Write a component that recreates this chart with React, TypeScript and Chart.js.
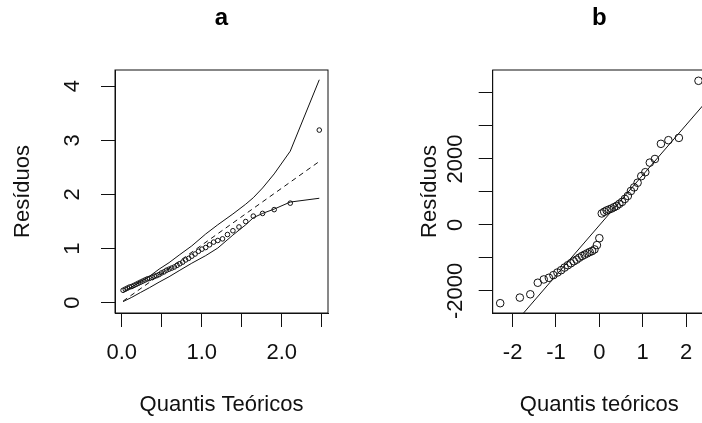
import React, { useEffect, useRef } from 'react';
import { Chart, registerables } from 'chart.js';

Chart.register(...registerables);

const FONT = "'Liberation Sans', Arial, Helvetica, sans-serif";

// ---------- Panel a (half-normal plot with simulated envelope) ----------
const A_X = [0.017, 0.044, 0.071, 0.098, 0.126, 0.153, 0.181, 0.208, 0.236, 0.264, 0.292, 0.321, 0.349, 0.378, 0.407, 0.437, 0.467, 0.497, 0.529, 0.56, 0.592, 0.625, 0.658, 0.692, 0.727, 0.762, 0.799, 0.837, 0.876, 0.917, 0.959, 1.003, 1.05, 1.098, 1.149, 1.201, 1.26, 1.322, 1.39, 1.466, 1.55, 1.645, 1.761, 1.906, 2.107, 2.47];
const A_Y = [0.23, 0.25, 0.27, 0.29, 0.3, 0.32, 0.34, 0.36, 0.38, 0.4, 0.42, 0.44, 0.45, 0.47, 0.49, 0.5, 0.52, 0.55, 0.57, 0.6, 0.62, 0.64, 0.66, 0.69, 0.72, 0.75, 0.79, 0.82, 0.86, 0.9, 0.95, 0.99, 1.02, 1.07, 1.12, 1.15, 1.18, 1.26, 1.33, 1.4, 1.5, 1.6, 1.65, 1.72, 1.84, 3.19];
const ENV_X = [0.017, 0.126, 0.236, 0.349, 0.467, 0.592, 0.727, 0.876, 1.05, 1.201, 1.39, 1.55, 1.645, 1.761, 1.906, 2.107, 2.47];
const ENV_UP = [0.19, 0.29, 0.39, 0.49, 0.62, 0.74, 0.89, 1.05, 1.27, 1.44, 1.64, 1.82, 1.94, 2.12, 2.38, 2.8, 4.12];
const ENV_LOW = [0.02, 0.1, 0.19, 0.28, 0.38, 0.48, 0.6, 0.73, 0.87, 1.01, 1.25, 1.44, 1.57, 1.65, 1.73, 1.86, 1.93];
const MED_X = [0.017, 2.47];
const MED_Y = [0.03, 2.61];
const A_XTICKS = [0, 0.5, 1, 1.5, 2, 2.5];
const A_XLABELS = ['0.0', '', '1.0', '', '2.0', ''];
const A_YTICKS = [0, 1, 2, 3, 4];
const A_YLABELS = ['0', '1', '2', '3', '4'];

// ---------- Panel b (normal QQ plot) ----------
const B_X = [-2.287, -1.834, -1.593, -1.42, -1.282, -1.164, -1.06, -0.967, -0.882, -0.803, -0.728, -0.657, -0.589, -0.524, -0.461, -0.4, -0.341, -0.282, -0.224, -0.168, -0.112, -0.056, 0, 0.056, 0.112, 0.168, 0.224, 0.282, 0.341, 0.4, 0.461, 0.524, 0.589, 0.657, 0.728, 0.803, 0.882, 0.967, 1.06, 1.164, 1.282, 1.42, 1.593, 1.834, 2.287];
const B_Y = [-2370, -2200, -2100, -1750, -1650, -1600, -1520, -1440, -1370, -1290, -1220, -1160, -1100, -1050, -990, -940, -900, -860, -820, -790, -740, -610, -400, 350, 400, 440, 470, 500, 540, 580, 640, 700, 790, 880, 1030, 1140, 1280, 1480, 1600, 1890, 2000, 2460, 2570, 2640, 4370];
const QQ_X = [-2.46, 2.46];
const QQ_Y = [-3750, 3730];
const B_XTICKS = [-2, -1, 0, 1, 2];
const B_XLABELS = ['-2', '-1', '0', '1', '2'];
const B_YTICKS = [-2000, -1000, 0, 1000, 2000, 3000, 4000];
const B_YLABELS = ['-2000', '', '0', '', '2000', '', ''];

const zip = (xs: number[], ys: number[]) => xs.map((x, i) => ({ x, y: ys[i] }));

const boxPlugin = {
  id: 'rbox',
  afterDatasetsDraw(chart: any) {
    const { ctx, chartArea: a } = chart;
    ctx.save();
    ctx.strokeStyle = '#111';
    ctx.lineWidth = 1;
    ctx.strokeRect(a.left, a.top, a.right - a.left, a.bottom - a.top);
    ctx.restore();
  },
};

interface PanelSpec {
  title: string;
  xTitle: string;
  xMin: number; xMax: number; yMin: number; yMax: number;
  xTicks: number[]; xLabels: string[];
  yTicks: number[]; yLabels: string[];
  yAxisWidth: number;
  yTickPad: number;
  yTitlePad: number;
  padRight: number;
  datasets: any[];
}

function makeConfig(p: PanelSpec): any {
  const font = { family: FONT, size: 22 };
  return {
    type: 'scatter',
    data: { datasets: p.datasets },
    plugins: [boxPlugin],
    options: {
      animation: false,
      responsive: false,
      devicePixelRatio: 1,
      layout: { padding: { left: 0, right: p.padRight, top: 0, bottom: 0 } },
      plugins: {
        legend: { display: false },
        tooltip: { enabled: false },
        title: {
          display: true,
          text: p.title,
          fullSize: false,
          color: '#000',
          font: { family: FONT, size: 24, weight: 'bold' },
          padding: { top: 4, bottom: 37.2 },
        },
      },
      scales: {
        x: {
          type: 'linear',
          position: 'bottom',
          min: p.xMin,
          max: p.xMax,
          afterBuildTicks: (s: any) => { s.ticks = p.xTicks.map((v) => ({ value: v })); },
          afterFit: (s: any) => { s.height = 110; },
          ticks: {
            autoSkip: false,
            maxRotation: 0,
            minRotation: 0,
            padding: 13,
            color: '#111',
            font,
            callback: (_v: any, i: number) => p.xLabels[i] ?? '',
          },
          grid: { drawOnChartArea: false, drawTicks: true, tickLength: 14, color: '#111', lineWidth: 1 },
          border: { display: true, color: '#111', width: 1 },
          title: { display: true, text: p.xTitle, color: '#111', font, padding: { top: 0, bottom: 5 } },
        },
        y: {
          type: 'linear',
          position: 'left',
          min: p.yMin,
          max: p.yMax,
          afterBuildTicks: (s: any) => { s.ticks = p.yTicks.map((v) => ({ value: v })); },
          afterFit: (s: any) => { s.width = p.yAxisWidth; },
          ticks: {
            autoSkip: false,
            minRotation: 90,
            maxRotation: 90,
            crossAlign: 'center',
            padding: p.yTickPad,
            color: '#111',
            font,
            callback: (_v: any, i: number) => p.yLabels[i] ?? '',
          },
          grid: { drawOnChartArea: false, drawTicks: true, tickLength: 14, color: '#111', lineWidth: 1 },
          border: { display: true, color: '#111', width: 1 },
          title: { display: true, text: 'Resíduos', color: '#111', font, padding: { top: p.yTitlePad, bottom: 0 } },
        },
      },
    },
  };
}

const lineDs = (data: any[], dash: number[] = []) => ({
  data,
  showLine: true,
  pointRadius: 0,
  borderColor: '#111',
  borderWidth: 1,
  borderDash: dash,
  fill: false,
  tension: 0,
});

export default function App() {
  const refA = useRef<HTMLCanvasElement | null>(null);
  const refB = useRef<HTMLCanvasElement | null>(null);

  useEffect(() => {
    const specA: PanelSpec = {
      title: 'a',
      xTitle: 'Quantis Teóricos',
      xMin: -0.084, xMax: 2.579, yMin: -0.19, yMax: 4.3,
      xTicks: A_XTICKS, xLabels: A_XLABELS,
      yTicks: A_YTICKS, yLabels: A_YLABELS,
      yAxisWidth: 115,
      yTickPad: 21.6,
      yTitlePad: 9.3,
      padRight: 23,
      datasets: [
        {
          data: zip(A_X, A_Y),
          pointRadius: 2.3,
          pointBorderWidth: 1,
          pointBackgroundColor: 'rgba(0,0,0,0)',
          pointBorderColor: '#111',
          showLine: false,
        },
        lineDs(zip(ENV_X, ENV_UP)),
        lineDs(zip(ENV_X, ENV_LOW)),
        lineDs(zip(MED_X, MED_Y), [5, 4]),
      ],
    };
    const specB: PanelSpec = {
      title: 'b',
      xTitle: 'Quantis teóricos',
      xMin: -2.46, xMax: 2.46, yMin: -2667, yMax: 4697,
      xTicks: B_XTICKS, xLabels: B_XLABELS,
      yTicks: B_YTICKS, yLabels: B_YLABELS,
      yAxisWidth: 141.7,
      yTickPad: -4.9,
      yTitlePad: 65.8,
      padRight: 5,
      datasets: [
        {
          data: zip(B_X, B_Y),
          pointRadius: 3.8,
          pointBorderWidth: 1,
          pointBackgroundColor: 'rgba(0,0,0,0)',
          pointBorderColor: '#111',
          showLine: false,
        },
        lineDs(zip(QQ_X, QQ_Y)),
      ],
    };
    const ca = new Chart(refA.current as HTMLCanvasElement, makeConfig(specA));
    const cb = new Chart(refB.current as HTMLCanvasElement, makeConfig(specB));
    return () => { ca.destroy(); cb.destroy(); };
  }, []);

  return (
    <div style={{ position: 'absolute', left: 0, top: 0, width: 702, height: 423, overflow: 'hidden', background: '#fff' }}>
      <canvas ref={refA} width={351} height={423} style={{ position: 'absolute', left: 0, top: 0, width: 351, height: 423 }} />
      <canvas ref={refB} width={360} height={423} style={{ position: 'absolute', left: 351, top: 0, width: 360, height: 423 }} />
    </div>
  );
}
